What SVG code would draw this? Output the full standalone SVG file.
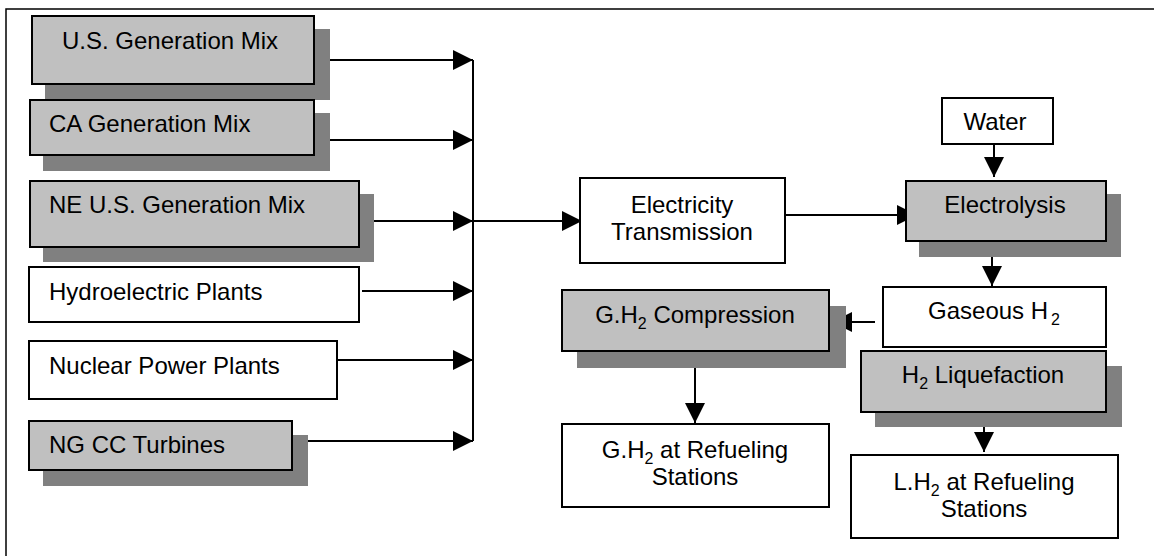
<svg xmlns="http://www.w3.org/2000/svg" width="1154" height="556" viewBox="0 0 1154 556">
<style>
.box{stroke:#000;stroke-width:2;}
.w{fill:#fff;}
.g{fill:#c0c0c0;}
.sh{fill:#808080;stroke:none;}
.t{font-family:"Liberation Sans",Arial,sans-serif;font-size:24px;fill:#000;}
.c{text-anchor:middle;}
.sub{font-size:16px;}
.ln{fill:none;stroke:#000;stroke-width:2;}
.ar{marker-end:url(#ah);}
</style>
<defs>
<marker id="ah" markerUnits="userSpaceOnUse" markerWidth="20" markerHeight="20" refX="20" refY="10" orient="auto" viewBox="0 0 20 20">
<path d="M0,0 L20,10 L0,20 z" fill="#000"/>
</marker>
</defs>
<rect x="6" y="9" width="1200" height="600" fill="#fff" stroke="#000" stroke-width="1.5"/>

<g id="connectors">
<path class="ln ar" d="M318,60 H473"/>
<path class="ln ar" d="M318,140 H473"/>
<path class="ln ar" d="M358,221 H473"/>
<path class="ln ar" d="M362,291 H473"/>
<path class="ln ar" d="M336,360 H473"/>
<path class="ln ar" d="M308,441 H473"/>
<path class="ln" d="M473,60 V441"/>
<path class="ln ar" d="M473,221 H582"/>
<path class="ln ar" d="M785,215 H917"/>
<path class="ln ar" d="M994,144 V177"/>
<path class="ln ar" d="M992,245 V286"/>
<path class="ln ar" d="M875,322 H832"/>
<path class="ln ar" d="M695,357 V423"/>
<path class="ln ar" d="M984,416 V452"/>
</g>

<g id="us-mix">
<rect class="sh" x="45" y="29" width="285" height="71"/>
<rect class="box g" x="32" y="16" width="282" height="68"/>
<text class="t" x="62" y="49">U.S. Generation Mix</text>
</g>
<g id="ca-mix">
<rect class="sh" x="43" y="113" width="287" height="58"/>
<rect class="box g" x="30" y="100" width="284" height="55"/>
<text class="t" x="49" y="132">CA Generation Mix</text>
</g>
<g id="ne-mix">
<rect class="sh" x="43" y="194" width="331" height="68"/>
<rect class="box g" x="30" y="181" width="329" height="66"/>
<text class="t" x="49" y="213">NE U.S. Generation Mix</text>
</g>
<g id="hydro">
<rect class="box w" x="29" y="267" width="330" height="55"/>
<text class="t" x="49" y="300">Hydroelectric Plants</text>
</g>
<g id="nuclear">
<rect class="box w" x="29" y="341" width="308" height="58"/>
<text class="t" x="49" y="374">Nuclear Power Plants</text>
</g>
<g id="ngcc">
<rect class="sh" x="43" y="435" width="265" height="51"/>
<rect class="box g" x="29" y="421" width="263" height="49"/>
<text class="t" x="49" y="453">NG CC Turbines</text>
</g>
<g id="transmission">
<rect class="box w" x="580" y="178" width="205" height="85"/>
<text class="t c" x="682" y="213">Electricity</text>
<text class="t c" x="682" y="240">Transmission</text>
</g>
<g id="water">
<rect class="box w" x="942" y="98" width="111" height="46"/>
<text class="t c" x="995" y="130">Water</text>
</g>
<g id="electrolysis">
<rect class="sh" x="919" y="194" width="202" height="63"/>
<rect class="box g" x="906" y="181" width="200" height="60"/>
<text class="t c" x="1005" y="213">Electrolysis</text>
</g>
<g id="gaseous">
<rect class="box w" x="883" y="287" width="223" height="60"/>
<text class="t c" x="994" y="319">Gaseous H<tspan class="sub" dx="3" dy="6">2</tspan></text>
</g>
<g id="compression">
<rect class="sh" x="577" y="306" width="269" height="62"/>
<rect class="box g" x="562" y="290" width="267" height="61"/>
<text class="t c" x="695" y="323">G.H<tspan class="sub" dy="6">2</tspan><tspan dy="-6"> Compression</tspan></text>
</g>
<g id="liquefaction">
<rect class="sh" x="875" y="366" width="247" height="61"/>
<rect class="box g" x="861" y="351" width="245" height="61"/>
<text class="t c" x="983" y="383">H<tspan class="sub" dy="6">2</tspan><tspan dy="-6"> Liquefaction</tspan></text>
</g>
<g id="gh2-stations">
<rect class="box w" x="562" y="424" width="267" height="83"/>
<text class="t c" x="695" y="458">G.H<tspan class="sub" dy="6">2</tspan><tspan dy="-6"> at Refueling</tspan></text>
<text class="t c" x="695" y="485">Stations</text>
</g>
<g id="lh2-stations">
<rect class="box w" x="851" y="455" width="267" height="83"/>
<text class="t c" x="984" y="490">L.H<tspan class="sub" dy="6">2</tspan><tspan dy="-6"> at Refueling</tspan></text>
<text class="t c" x="984" y="517">Stations</text>
</g>
</svg>
